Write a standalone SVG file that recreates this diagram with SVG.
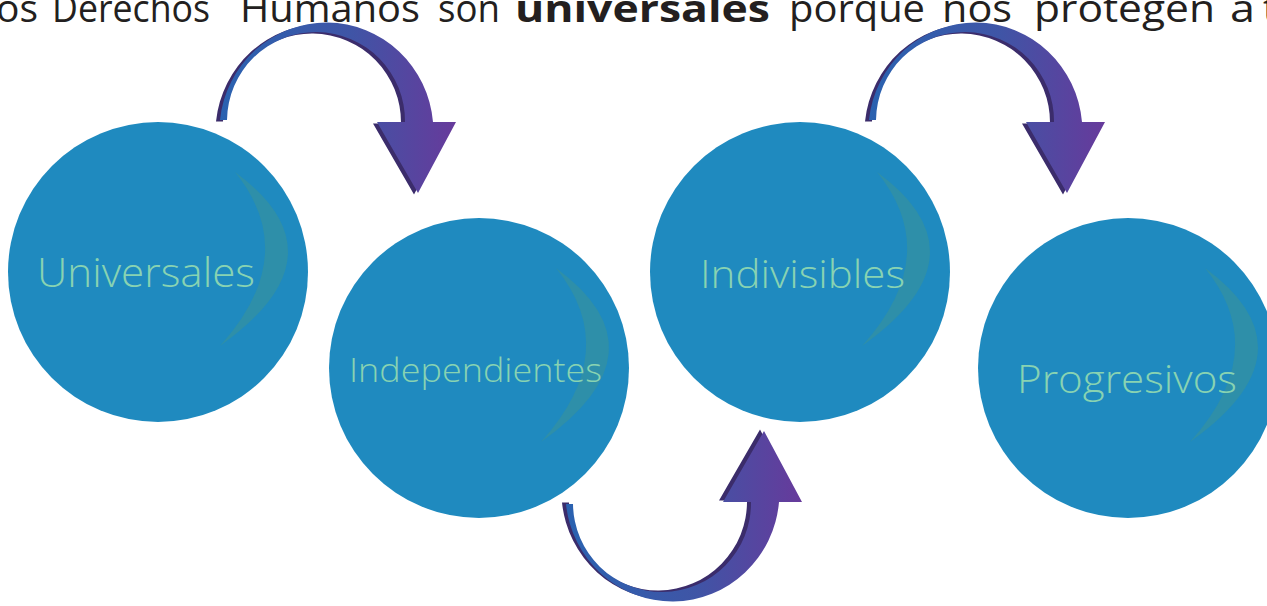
<svg xmlns="http://www.w3.org/2000/svg" width="1267" height="606" viewBox="0 0 1267 606">
  <defs>
    <linearGradient id="face" x1="0" y1="0" x2="1" y2="0">
      <stop offset="0" stop-color="#2a62b0"/>
      <stop offset="0.55" stop-color="#3f55a6"/>
      <stop offset="1" stop-color="#673a9b"/>
    </linearGradient>
    <path id="arrowShape" d="M220,120 A107,109 0 0 1 433,122 L456,122 L418,193 L377,122 L405,122 A89,89 0 0 0 227,120 Z"/>
    <g id="arrow">
      <use href="#arrowShape" fill="#3b2c6b" transform="translate(-4,1.5)"/>
      <use href="#arrowShape" fill="url(#face)"/>
    </g>
    <path id="crescent" d="M77,-100 Q190,-17 62,74 Q144,-17 77,-100 Z"/>
  </defs>
  <style>
    .circle { fill: #1f8abf; }
    .crescent { fill: #2e8fa9; }
    .label { font-family: "Open Sans", "Liberation Sans", sans-serif; font-weight: 300; fill: #88d3b2; }
    .title { font-family: "Open Sans", "Liberation Sans", sans-serif; font-size: 38px; font-weight: 400; fill: #231f20; }
    .bold { font-weight: 700; }
  </style>
  <rect width="1267" height="606" fill="#ffffff"/>

  <text class="title" y="22"><tspan x="-4" textLength="42" lengthAdjust="spacingAndGlyphs">os</tspan><tspan x="52" textLength="158" lengthAdjust="spacingAndGlyphs">Derechos</tspan><tspan x="240" textLength="180" lengthAdjust="spacingAndGlyphs">Humanos</tspan><tspan x="438" textLength="62" lengthAdjust="spacingAndGlyphs">son</tspan><tspan class="bold" x="515" textLength="255" lengthAdjust="spacingAndGlyphs">universales</tspan><tspan x="789" textLength="136" lengthAdjust="spacingAndGlyphs">porque</tspan><tspan x="942" textLength="70" lengthAdjust="spacingAndGlyphs">nos</tspan><tspan x="1034" textLength="181" lengthAdjust="spacingAndGlyphs">protegen</tspan><tspan x="1230" textLength="25" lengthAdjust="spacingAndGlyphs">a</tspan><tspan x="1263" textLength="60" lengthAdjust="spacingAndGlyphs">tod</tspan></text>

  <g id="connectors">
    <use id="arrow-1" href="#arrow"/>
    <use id="arrow-2" href="#arrow" transform="translate(649,0)"/>
    <use id="arrow-3" href="#arrow" transform="translate(346,624) scale(1,-1)"/>
  </g>

  <g id="node-universales">
    <circle class="circle" cx="158" cy="272" r="150"/>
    <use class="crescent" href="#crescent" transform="translate(158,272)"/>
    <text class="label" x="37" y="287" font-size="40" textLength="218" lengthAdjust="spacingAndGlyphs">Universales</text>
  </g>
  <g id="node-independientes">
    <circle class="circle" cx="479" cy="368" r="150"/>
    <use class="crescent" href="#crescent" transform="translate(479,368)"/>
    <text class="label" x="349" y="382" font-size="33" textLength="253" lengthAdjust="spacingAndGlyphs">Independientes</text>
  </g>
  <g id="node-indivisibles">
    <circle class="circle" cx="800" cy="272" r="150"/>
    <use class="crescent" href="#crescent" transform="translate(800,272)"/>
    <text class="label" x="700" y="288" font-size="38" textLength="205" lengthAdjust="spacingAndGlyphs">Indivisibles</text>
  </g>
  <g id="node-progresivos">
    <circle class="circle" cx="1128" cy="368" r="150"/>
    <use class="crescent" href="#crescent" transform="translate(1128,368)"/>
    <text class="label" x="1017" y="393" font-size="39" textLength="220" lengthAdjust="spacingAndGlyphs">Progresivos</text>
  </g>
</svg>
